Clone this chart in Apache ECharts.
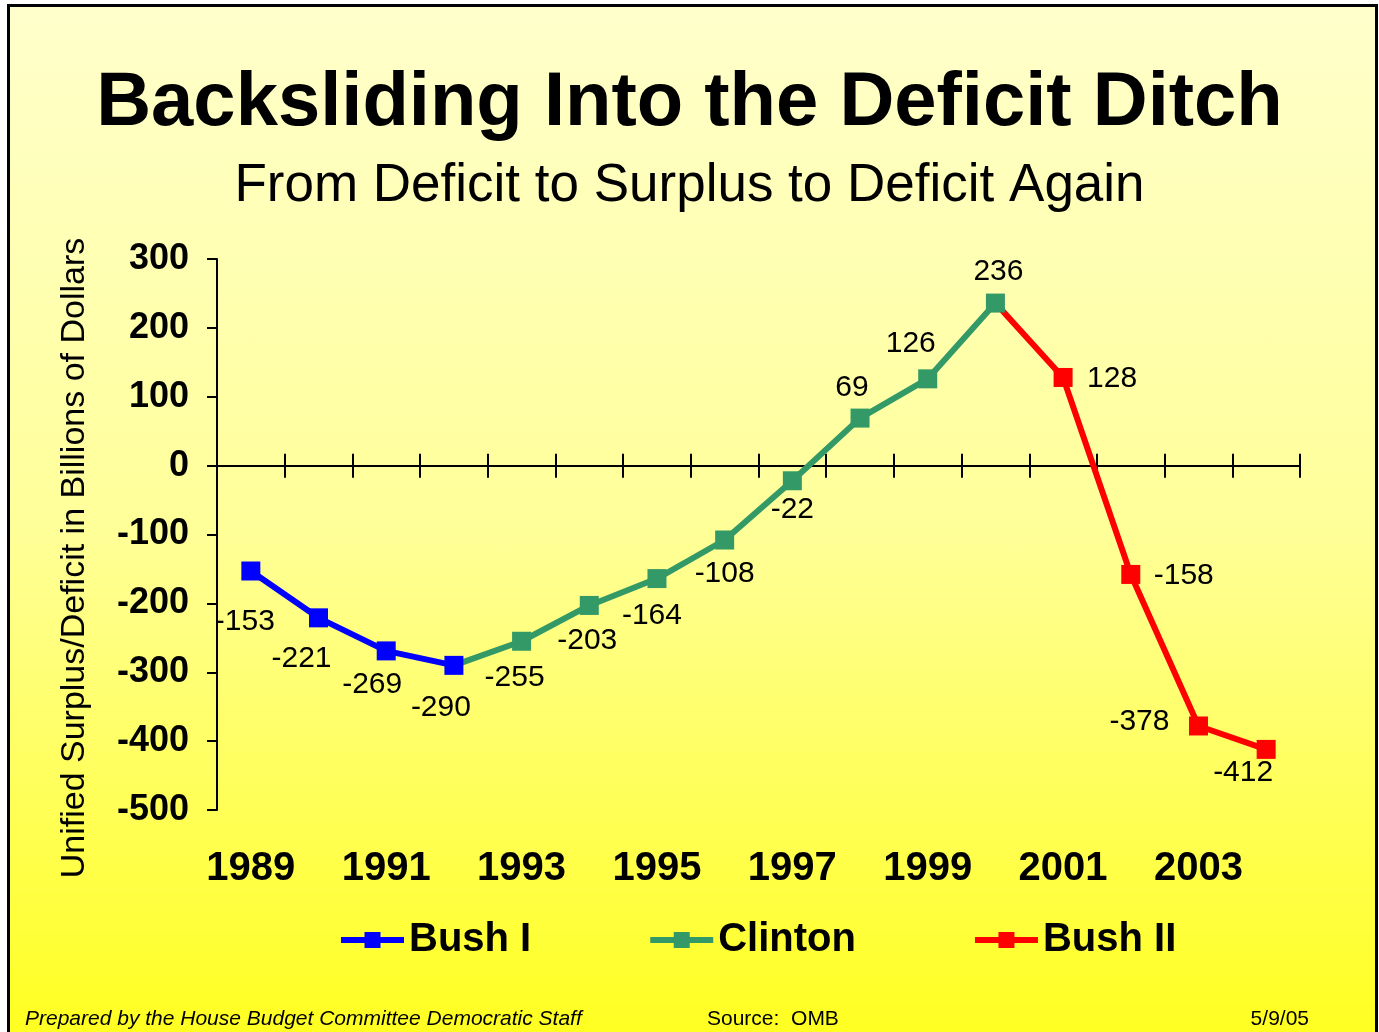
<!DOCTYPE html>
<html>
<head>
<meta charset="utf-8">
<script src="https://cdn.jsdelivr.net/npm/echarts@6/dist/echarts.min.js"></script>
<style>
  html, body { margin: 0; padding: 0; background: #fff; width: 1379px; height: 1032px; overflow: hidden; }
  #frame { position: absolute; left: 7px; top: 4px; width: 1365px; height: 1040px;
    border-left: 3px solid #000; border-top: 3px solid #000; border-right: 3px solid #000;
    background: linear-gradient(#FFFFCC 0%, #FFFF99 50%, #FFFF1E 100%); }
  #chart { position: absolute; left: 0; top: 0; width: 1379px; height: 1032px; }
</style>
</head>
<body>
<div id="frame"></div>
<div id="chart"></div>
<script>
// 年份与各任期的赤字/盈余（十亿美元）
var years = ['1989','1990','1991','1992','1993','1994','1995','1996','1997','1998','1999','2000','2001','2002','2003','2004'];
var bushI   = [-153, -221, -269, -290, null, null, null, null, null, null, null, null, null, null, null, null];
var clinton = [null, null, null, -290, -255, -203, -164, -108, -22, 69, 126, 236, null, null, null, null];
var bushII  = [null, null, null, null, null, null, null, null, null, null, null, 236, 128, -158, -378, -412];
var yTicks = [-500, -400, -300, -200, -100, 0, 100, 200, 300];

// 标签偏移（相对于数据点中心）
var labelOffsets = [[-6,51],[-17,41],[-14,34],[-13,42],[-7,36],[-2,35],[-5,37],[0,34],[0,29],[-8,-30],[-17,-35],[3,-31],[49,1],[53,1],[-59,-4],[-23,23]];
// 共用的端点：不重复画点和标签
var hideOn = { 'Clinton': [3], 'Bush II': [11] };

var font = 'Liberation Sans, Arial, sans-serif';
var myChart = echarts.init(document.getElementById('chart'));

function buildData(name, values) {
  var hidden = hideOn[name] || [];
  return values.map(function (v, i) {
    if (v === null) return null;
    if (hidden.indexOf(i) >= 0) {
      return { value: v, symbol: 'none', label: { show: false } };
    }
    return { value: v, label: { offset: labelOffsets[i] } };
  });
}

function lineSeries(name, values, color, z) {
  return {
    name: name,
    type: 'line',
    xAxisIndex: 0,
    data: buildData(name, values),
    z: z,
    symbol: 'rect',
    symbolSize: 19,
    lineStyle: { color: color, width: 6 },
    itemStyle: { color: color },
    label: {
      show: true,
      position: 'inside',
      color: '#000',
      fontFamily: font,
      fontSize: 30
    },
    animation: false
  };
}

var option = {
  title: [{
    text: 'Backsliding Into the Deficit Ditch',
    left: 'center',
    top: 61,
    textStyle: { fontFamily: font, fontSize: 76, fontWeight: 'bold', color: '#000' }
  }, {
    text: 'From Deficit to Surplus to Deficit Again',
    left: 'center',
    top: 155,
    textStyle: { fontFamily: font, fontSize: 53, fontWeight: 'normal', color: '#000' }
  }],
  grid: { left: 217, right: 79, top: 259, bottom: 222 },
  legend: {
    data: ['Bush I', 'Clinton', 'Bush II'],
    left: 333,
    top: 915,
    itemWidth: 63,
    itemHeight: 20,
    itemGap: 116,
    lineStyle: { width: 6 },
    textStyle: { fontFamily: font, fontSize: 40, fontWeight: 'bold', color: '#000' }
  },
  xAxis: [{
    type: 'category',
    data: years,
    boundaryGap: true,
    axisLine: { onZero: true, onZeroAxisIndex: 0, lineStyle: { color: '#000', width: 2 } },
    axisTick: { show: true, length: 12, interval: 0, lineStyle: { color: '#000', width: 2 } },
    axisLabel: { show: false }
  }, {
    type: 'category',
    data: years,
    position: 'top',
    boundaryGap: true,
    axisLine: { onZero: true, onZeroAxisIndex: 0, lineStyle: { color: '#000', width: 2 } },
    axisTick: { show: true, length: 12, interval: 0, lineStyle: { color: '#000', width: 2 } },
    axisLabel: { show: false }
  }, {
    type: 'category',
    data: years,
    position: 'bottom',
    boundaryGap: true,
    axisLine: { show: false, onZero: false },
    axisTick: { show: false },
    axisLabel: { interval: 1, margin: 39, fontFamily: font, fontSize: 40, fontWeight: 'bold', color: '#000' }
  }],
  yAxis: {
    type: 'value',
    min: yTicks[0],
    max: yTicks[yTicks.length - 1],
    interval: 100,
    axisLine: { show: true, onZero: false, lineStyle: { color: '#000', width: 2 } },
    axisTick: { show: true, length: 10, lineStyle: { color: '#000', width: 2 } },
    splitLine: { show: false },
    axisLabel: { margin: 28, fontFamily: font, fontSize: 36, fontWeight: 'bold', color: '#000' }
  },
  graphic: [{
    type: 'text',
    x: 75, y: 558,
    rotation: Math.PI / 2,
    style: { text: 'Unified Surplus/Deficit in Billions of Dollars', fill: '#000',
      font: '34px ' + font, textAlign: 'center', textVerticalAlign: 'middle' }
  }, {
    type: 'text',
    x: 25, y: 1019,
    style: { text: 'Prepared by the House Budget Committee Democratic Staff', fill: '#000',
      font: 'italic 21px ' + font, textAlign: 'left', textVerticalAlign: 'middle' }
  }, {
    type: 'text',
    x: 707, y: 1019,
    style: { text: 'Source:  OMB', fill: '#000',
      font: '21px ' + font, textAlign: 'left', textVerticalAlign: 'middle' }
  }, {
    type: 'text',
    x: 1309, y: 1019,
    style: { text: '5/9/05', fill: '#000',
      font: '21px ' + font, textAlign: 'right', textVerticalAlign: 'middle' }
  }],
  series: [
    lineSeries('Bush I', bushI, '#0000FF', 5),
    lineSeries('Clinton', clinton, '#339966', 4),
    lineSeries('Bush II', bushII, '#FF0000', 3)
  ]
};
myChart.setOption(option);
</script>
</body>
</html>
